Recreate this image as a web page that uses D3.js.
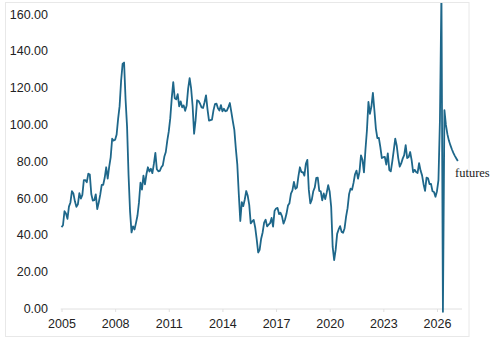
<!DOCTYPE html>
<html>
<head>
<meta charset="utf-8">
<script src="https://cdn.jsdelivr.net/npm/d3@7"></script>
<style>
  html, body { margin: 0; padding: 0; background: #fff; }
  svg { display: block; }
</style>
</head>
<body>
<svg id="chart" width="500" height="342"></svg>
<script>
// Monthly crude price, starting January 2005 (USD per barrel)
const startYear = 2005;
const prices = [
  // 2005
  44.5, 45.5, 53.1, 51.9, 49.0, 55.6, 57.9, 64.0, 62.7, 58.5, 55.5, 56.9,
  // 2006
  62.9, 60.0, 62.0, 70.0, 70.0, 68.9, 73.5, 73.0, 62.5, 58.9, 59.1, 62.3,
  // 2007
  54.3, 57.8, 62.1, 67.4, 67.5, 71.3, 77.0, 70.8, 77.2, 82.4, 92.5, 91.5,
  // 2008
  92.0, 94.8, 103.3, 110.2, 123.9, 133.1, 133.9, 113.8, 99.1, 72.8, 53.2, 41.6,
  // 2009
  44.9, 43.2, 46.8, 50.8, 57.9, 68.6, 64.9, 72.5, 67.7, 73.2, 77.0, 74.7,
  // 2010
  76.2, 73.8, 78.8, 84.8, 75.9, 74.8, 75.0, 77.0, 78.0, 82.7, 85.3, 91.5,
  // 2011
  96.5, 103.7, 114.6, 123.3, 114.5, 113.9, 116.7, 110.1, 112.8, 109.6, 110.6, 107.7,
  // 2012
  110.6, 119.7, 125.4, 119.8, 110.3, 95.2, 102.6, 113.4, 113.0, 111.5, 109.5, 109.2,
  // 2013
  112.3, 116.1, 108.5, 102.3, 102.6, 102.9, 107.9, 111.3, 111.6, 109.1, 107.8, 110.8,
  // 2014
  107.4, 108.8, 107.4, 107.8, 109.7, 111.9, 107.0, 101.9, 97.3, 87.3, 78.4, 62.3,
  // 2015
  47.8, 58.1, 55.9, 59.5, 64.1, 61.5, 56.6, 46.5, 47.6, 48.4, 44.3, 38.0,
  // 2016
  30.7, 32.2, 38.2, 41.6, 46.9, 48.5, 44.9, 45.8, 46.6, 49.5, 44.8, 53.3,
  // 2017
  54.6, 54.9, 51.6, 52.3, 50.3, 46.4, 48.5, 51.7, 56.2, 57.5, 62.7, 64.4,
  // 2018
  69.1, 65.3, 66.0, 72.1, 77.0, 74.4, 74.3, 72.5, 78.9, 81.0, 64.7, 57.4,
  // 2019
  59.4, 64.0, 66.1, 71.2, 71.3, 64.2, 63.9, 59.0, 62.8, 59.7, 63.2, 67.3,
  // 2020
  63.7, 55.5, 33.7, 26.6, 32.1, 40.8, 43.2, 45.0, 41.9, 41.4, 43.9, 50.2,
  // 2021
  54.8, 62.3, 65.4, 64.8, 68.5, 73.2, 75.2, 70.8, 74.5, 83.5, 81.1, 74.2,
  // 2022
  86.5, 97.1, 112.5, 106.0, 110.0, 117.4, 108.0, 98.0, 92.8, 93.0, 88.0, 82.0,
  // 2023
  82.5, 82.6, 78.4, 84.6, 75.5, 74.8, 80.1, 86.2, 92.6, 88.7, 82.0, 77.3,
  // 2024
  79.1, 81.7, 83.6, 89.0, 82.0, 82.6, 85.3, 80.9, 74.3, 75.6, 74.4, 73.9,
  // 2025
  79.2, 75.2, 72.6, 67.8, 64.2, 71.4, 71.0, 67.9, 68.0, 64.0, 63.6, 61.0,
  // 2026
  64.0, 70.0, 103.0, 172.0, -1.5
];
// Futures curve, continuing monthly from June 2026
const futures = [108.0, 100.0, 95.0, 91.5, 89.0, 86.8, 84.8, 83.2, 81.8, 80.4];

const yTicks = [0, 20, 40, 60, 80, 100, 120, 140, 160];
const xTicks = [2005, 2008, 2011, 2014, 2017, 2020, 2023, 2026];
const futuresLabel = "futures";

// Build one continuous monthly series
const series = prices.concat(futures).map((v, i) => ({ t: startYear + i / 12, v }));

const svg = d3.select("#chart");

const x = d3.scaleLinear().domain([2005, 2027.4]).range([61.5, 462]);
const y = d3.scaleLinear().domain([0, 160]).range([309, 14.5]);

// Outer frame
svg.append("rect")
  .attr("x", 5.5).attr("y", 2.5)
  .attr("width", 463.5).attr("height", 334)
  .attr("fill", "none")
  .attr("stroke", "#e8e8e8")
  .attr("stroke-width", 1);

// Clip the series to the inside of the frame
svg.append("clipPath").attr("id", "plot-clip")
  .append("rect").attr("x", 6).attr("y", 3).attr("width", 462).attr("height", 333);

// X axis
const xAxis = d3.axisBottom(x)
  .tickValues(xTicks)
  .tickFormat(d3.format("d"))
  .tickSize(3)
  .tickPadding(7);

const gx = svg.append("g")
  .attr("transform", `translate(0,${y(0)})`)
  .call(xAxis);
gx.select(".domain").attr("stroke", "#e0e0e0").attr("d", `M${x.range()[0] - 0.8},0H${x.range()[1]}`);
gx.selectAll(".tick line").attr("stroke", "#e0e0e0");
gx.selectAll(".tick text")
  .attr("fill", "#222")
  .attr("font-family", "Liberation Sans, Arial, Helvetica, sans-serif")
  .attr("font-size", 12.5);

// Y axis labels (no axis line)
const yAxis = d3.axisLeft(y)
  .tickValues(yTicks)
  .tickFormat(d3.format(".2f"))
  .tickSize(0)
  .tickPadding(0);

const gy = svg.append("g")
  .attr("transform", "translate(48,0)")
  .call(yAxis);
gy.select(".domain").remove();
gy.selectAll(".tick text")
  .attr("fill", "#222")
  .attr("font-family", "Liberation Sans, Arial, Helvetica, sans-serif")
  .attr("font-size", 12.5)
  .attr("dy", "0.28em");

// Price line
const line = d3.line()
  .x(d => x(d.t))
  .y(d => y(d.v));

svg.append("path")
  .datum(series)
  .attr("clip-path", "url(#plot-clip)")
  .attr("fill", "none")
  .attr("stroke", "#1e678a")
  .attr("stroke-width", 1.8)
  .attr("stroke-linejoin", "round")
  .attr("d", line);

// Futures annotation
svg.append("text")
  .attr("x", 455)
  .attr("y", 177)
  .attr("fill", "#222")
  .attr("font-family", "Liberation Serif, Times New Roman, serif")
  .attr("font-size", 12.5)
  .text(futuresLabel);
</script>
</body>
</html>
